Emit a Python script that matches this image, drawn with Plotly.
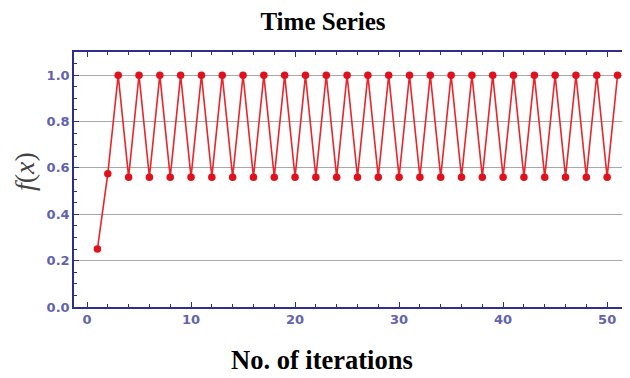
import plotly.graph_objects as go

iterations = list(range(1, 52))
f_values = [0.25, 0.575] + [1.0 if i % 2 == 1 else 0.56 for i in range(3, 52)]

x_ticks = [0, 10, 20, 30, 40, 50]
y_ticks = [0.0, 0.2, 0.4, 0.6, 0.8, 1.0]
y_tick_labels = ["0.0", "0.2", "0.4", "0.6", "0.8", "1.0"]

navy = "#2e2e8f"
tick_color = "#6262b0"

fig = go.Figure()
fig.add_trace(go.Scatter(
    x=iterations, y=f_values, mode="lines+markers",
    line=dict(color="#e8262c", width=1.6),
    marker=dict(color="#e0101c", size=7.5),
    showlegend=False,
))

# the page body adds an 8px margin, so the figure is 8px smaller and offset
fig.update_layout(
    width=622, height=370,
    margin=dict(l=66, r=1, t=44, b=71, autoexpand=False),
    paper_bgcolor="white", plot_bgcolor="white",
    title=dict(text="<b>Time Series</b>", x=315 / 622, xanchor="center", xref="container",
               y=1 - 4 / 370, yanchor="top", yref="container",
               font=dict(family="Liberation Serif", size=25, color="black")),
    annotations=[
        dict(text="<b>No. of iterations</b>", xref="paper", yref="paper",
             x=(314 - 66) / 555, y=-(352 - 299) / 255, xanchor="center", yanchor="middle",
             showarrow=False, font=dict(family="Liberation Serif", size=26.5, color="black")),
        dict(text="<i>f</i>(<i>x</i>)", xref="paper", yref="paper",
             x=(16 - 66) / 555, y=(299 - 164) / 255, xanchor="center", yanchor="middle",
             textangle=-90, showarrow=False,
             font=dict(family="Liberation Serif", size=28, color="#444444")),
    ],
)
fig.update_xaxes(
    range=[-1.25, 52.1], tickvals=x_ticks, ticks="inside", ticklen=5, tickcolor=navy,
    showline=True, linecolor=navy, linewidth=1.5, mirror="allticks",
    showgrid=False, zeroline=False, automargin=False,
    tickfont=dict(family="DejaVu Sans", size=13, color=tick_color, weight="bold"),
    minor=dict(dtick=2, tick0=0, ticks="inside", ticklen=3, tickcolor=navy, showgrid=False),
)
fig.update_yaxes(
    range=[0, 1.1], tickvals=y_ticks, ticktext=y_tick_labels, ticks="inside", ticklen=5, tickcolor=navy,
    showline=True, linecolor=navy, linewidth=1.5, mirror="allticks",
    showgrid=True, gridcolor="#a8a8a8", gridwidth=1.2, zeroline=False, automargin=False,
    tickfont=dict(family="DejaVu Sans", size=13, color=tick_color, weight="bold"),
    minor=dict(dtick=0.05, tick0=0, ticks="inside", ticklen=3, tickcolor=navy, showgrid=False),
)

fig.write_html("out.html")
